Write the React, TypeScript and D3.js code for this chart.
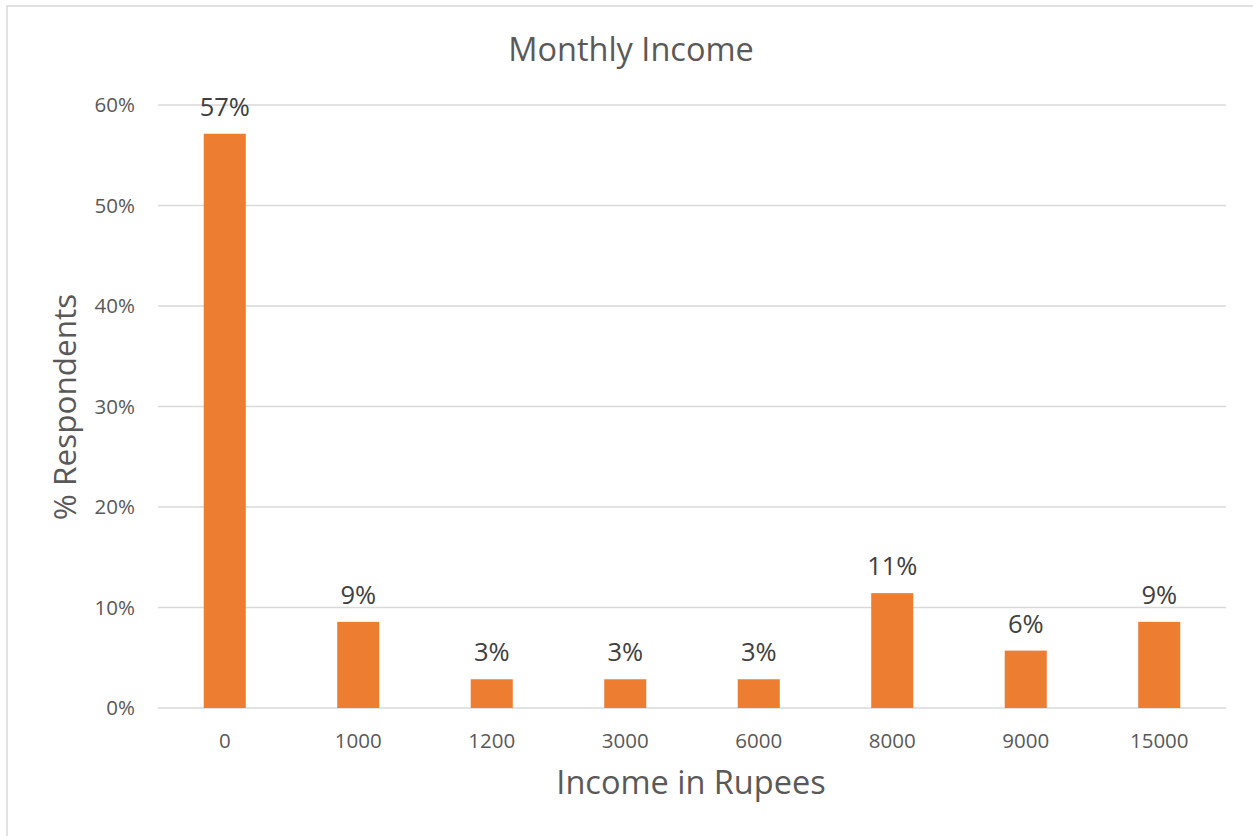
import React from "react";
import * as d3 from "d3";

const categories = ["0", "1000", "1200", "3000", "6000", "8000", "9000", "15000"];
const values = [0.5714, 0.0857, 0.0286, 0.0286, 0.0286, 0.1143, 0.0571, 0.0857];
const yTicks = [0, 0.1, 0.2, 0.3, 0.4, 0.5, 0.6];

const W = 1253;
const H = 836;
const M = { left: 158, right: 1226, top: 105, bottom: 708 };
const FONT = "'Open Sans', Lato, sans-serif";

export default function App() {
  const x = d3
    .scaleBand<string>()
    .domain(categories)
    .range([M.left, M.right])
    .paddingInner(0.685)
    .paddingOuter(0.3425);
  const y = d3.scaleLinear().domain([0, 0.6]).range([M.bottom, M.top]);
  const fmt = d3.format(".0%");

  return (
    <svg
      width={W}
      height={H}
      style={{ position: "absolute", left: 0, top: 0, background: "#fff" }}
      fontFamily={FONT}
    >
      <rect x={7} y={6} width={1260} height={840} fill="#fff" stroke="#d9d9d9" strokeWidth={1.5} />
      <text x={631} y={61} textAnchor="middle" fontSize={32.5} fill="#595959">
        Monthly Income
      </text>
      {yTicks.map((t) => (
        <g key={t}>
          <line x1={M.left} x2={M.right} y1={y(t)} y2={y(t)} stroke="#d9d9d9" strokeWidth={1.5} />
          <text x={135} y={y(t)} dy="0.36em" textAnchor="end" fontSize={20.5} fill="#595959">
            {fmt(t)}
          </text>
        </g>
      ))}
      {categories.map((c, i) => (
        <g key={c}>
          <rect
            x={x(c)}
            y={y(values[i])}
            width={x.bandwidth()}
            height={y(0) - y(values[i])}
            fill="#ED7D31"
          />
          <text
            x={(x(c) as number) + x.bandwidth() / 2}
            y={y(values[i]) - 18}
            textAnchor="middle"
            fontSize={25.5}
            fill="#404040"
          >
            {fmt(values[i])}
          </text>
          <text
            x={(x(c) as number) + x.bandwidth() / 2}
            y={748}
            textAnchor="middle"
            fontSize={20.5}
            fill="#595959"
          >
            {c}
          </text>
        </g>
      ))}
      <text x={691} y={794} textAnchor="middle" fontSize={32.5} fill="#595959">
        Income in Rupees
      </text>
      <text
        transform={`translate(76, 407) rotate(-90)`}
        textAnchor="middle"
        fontSize={31.5}
        fill="#595959"
      >
        % Respondents
      </text>
    </svg>
  );
}
